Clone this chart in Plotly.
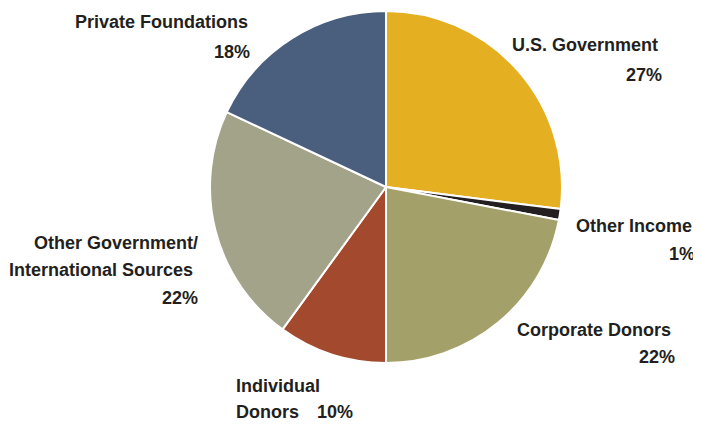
import plotly.graph_objects as go

categories = ["U.S. Government", "Other Income", "Corporate Donors", "Individual Donors",
              "Other Government/ International Sources", "Private Foundations"]
values = [27, 1, 22, 10, 22, 18]
colors = ["#E5AF22", "#231F20", "#A3A06A", "#A34A2E", "#A3A38A", "#4A5F7E"]

OFF = 8  # page body margin
W, H = 701 - OFF, 428 - OFF
cx, cy, r = 386 - OFF, 187 - OFF, 176

fig = go.Figure(go.Pie(
    labels=categories, values=values, sort=False, direction="clockwise", rotation=0,
    marker=dict(colors=colors, line=dict(color="white", width=2)),
    textinfo="none", hoverinfo="label+percent", showlegend=False,
    domain=dict(x=[(cx - r) / W, (cx + r) / W], y=[(H - cy - r) / H, (H - cy + r) / H]),
))

FONT = dict(family="Liberation Sans, Arial, sans-serif", size=18, color="#231F20")

pct = [f"{v}%" for v in values]
labels = [
    (["<b>U.S. Government</b>", f"<b>{pct[0]}</b>"], [660, 664], [45, 75]),
    (["<b>Other Income</b>", f"<b>{pct[1]}</b>"], [694, 697], [226, 254]),
    (["<b>Corporate Donors</b>", f"<b>{pct[2]}</b>"], [673, 677], [330, 357]),
    (["<b>Other Government/</b>", "<b>International Sources</b>", f"<b>{pct[4]}</b>"],
     [200, 195, 200], [243, 270, 298]),
    (["<b>Private Foundations</b>", f"<b>{pct[5]}</b>"], [250, 252], [22, 52]),
]

def px(x):
    return (x - OFF) / W

def py(y):
    return 1 - (y - OFF) / H

ann = []
for lines, xs, ys in labels:
    for t, x, y in zip(lines, xs, ys):
        ann.append(dict(text=t, x=px(x), y=py(y), xref="paper", yref="paper",
                        xanchor="right", yanchor="middle", showarrow=False, font=FONT))
ann.append(dict(text="<b>Individual</b>", x=px(234), y=py(386), xref="paper", yref="paper",
                xanchor="left", yanchor="middle", showarrow=False, font=FONT))
ann.append(dict(text="<b>Donors</b>", x=px(234), y=py(412), xref="paper", yref="paper",
                xanchor="left", yanchor="middle", showarrow=False, font=FONT))
ann.append(dict(text=f"<b>{pct[3]}</b>", x=px(355), y=py(412), xref="paper", yref="paper",
                xanchor="right", yanchor="middle", showarrow=False, font=FONT))

fig.update_layout(width=W, height=H, margin=dict(l=0, r=0, t=0, b=0),
                  paper_bgcolor="white", plot_bgcolor="white", annotations=ann)
fig.write_html("out.html")
